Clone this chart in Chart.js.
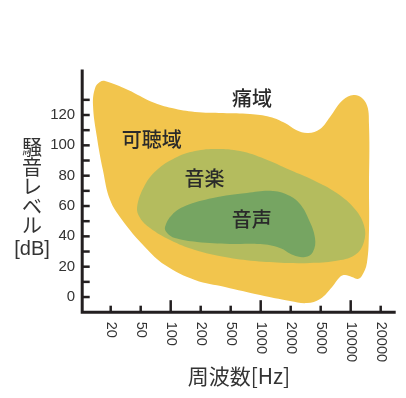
<!DOCTYPE html>
<html>
<head>
<meta charset="utf-8">
<script src="https://cdn.jsdelivr.net/npm/chart.js@4"></script>
<style>
  html, body { margin: 0; padding: 0; background: #fff; }
</style>
</head>
<body>
<canvas id="grafico" width="406" height="398"></canvas>
<script>
"use strict";

// frequency axis: position 0 = 20 Hz, 1 = 50 Hz ... 9 = 20000 Hz
const freqLabels = ["20", "50", "100", "200", "500", "1000", "2000", "5000", "10000", "20000"];
const freqMajor = ["100", "1000", "10000"];
const dbTicks = [0, 20, 40, 60, 80, 100, 120];
const dbMarks = [0, 10, 20, 30, 40, 50, 60, 70, 80, 90, 100, 110, 120, 130];

// audible range (outline, position on freq axis / dB)
const audibleX = [8.61, 8.61, 8.54, 8.37, 8.24, 8.04, 7.81, 7.64, 7.38, 6.98, 6.54, 5.98, 4.98, 3.81, 2.81, 1.81, 1.14, 0.38, -0.02, -0.26, -0.46, -0.59, -0.52, -0.36, -0.19, 0.58, 1.38, 2.04, 2.81, 3.74, 4.64, 5.31, 5.81, 6.18, 6.58, 6.98, 7.31, 7.74, 8.14, 8.51, 8.61];
const audibleY = [70.5, 44.2, 22.4, 13.8, 11.9, 13.2, 14.5, 13.2, 6.6, -1.3, -4.0, -2.6, 1.3, 6.6, 11.2, 21.1, 33.0, 50.8, 63.9, 83.7, 105.5, 126.6, 137.8, 141.7, 142.4, 136.5, 128.6, 124.6, 122.0, 121.3, 120.6, 118.7, 114.7, 110.1, 108.1, 110.8, 118.7, 129.9, 133.2, 127.9, 113.4];

// music
const musicX = [5.81, 4.81, 3.81, 2.81, 1.98, 1.31, 0.98, 0.88, 1.14, 1.54, 2.14, 2.81, 3.54, 4.31, 5.14, 5.98, 6.81, 7.48, 8.08, 8.44, 8.44, 8.14, 7.48, 6.64];
const musicY = [22.4, 23.7, 26.4, 31.0, 37.6, 45.5, 52.1, 59.3, 73.8, 83.7, 91.6, 96.2, 97.6, 96.2, 91.0, 83.7, 76.5, 69.2, 59.3, 47.5, 36.3, 27.7, 23.7, 22.4];

// speech
const speechX = [3.98, 2.88, 2.14, 1.88, 1.81, 2.04, 2.48, 3.41, 4.54, 5.41, 5.98, 6.31, 6.58, 6.81, 6.74, 6.48, 6.08, 5.64, 4.98];
const speechY = [34.9, 36.3, 38.9, 42.2, 46.1, 54.1, 60.0, 65.3, 68.6, 69.9, 66.6, 61.3, 52.1, 38.9, 29.7, 26.4, 27.7, 32.3, 34.9];

const areaNames = ["痛域", "可聴域", "音楽", "音声"];
const areaNameX = [4.71, 1.37, 3.13, 4.7];
const areaNameY = [131.2, 104, 78, 51.1];

const yTitleChars = ["騒", "音", "レ", "ベ", "ル"];
const yTitleUnit = "[dB]";
const xTitle = "周波数[Hz]";

const LATIN = "'Liberation Sans', Arial, sans-serif";
const CJK = "'Noto Sans CJK JP', 'Noto Sans CJK SC', sans-serif";

function chiudi(xs, ys) {
    let pts = xs.map((x, i) => ({ x: x, y: ys[i] }));
    pts.push(pts[0]);
    return pts;
}

function area(xs, ys, colore, ordine) {
    return {
        data: chiudi(xs, ys),
        fill: "shape",
        backgroundColor: colore,
        borderColor: "rgba(0,0,0,0)",
        borderWidth: 0,
        pointRadius: 0,
        tension: 0.4,
        order: ordine
    };
}

// axes, tick marks and texts drawn over the filled areas
const assiPlugin = {
    id: "assi",
    afterDatasetsDraw(chart) {
        const ctx = chart.ctx;
        const sx = chart.scales.x;
        const sy = chart.scales.y;
        const a = chart.chartArea;
        ctx.save();

        // area names
        ctx.fillStyle = "#2a2a2a";
        ctx.font = "500 20px " + CJK;
        ctx.textAlign = "center";
        ctx.textBaseline = "middle";
        areaNames.forEach((t, i) => {
            ctx.fillText(t, sx.getPixelForValue(areaNameX[i]), sy.getPixelForValue(areaNameY[i]));
        });

        ctx.strokeStyle = "#231f20";
        ctx.lineWidth = 3;
        ctx.beginPath();
        ctx.moveTo(a.left, a.top);
        ctx.lineTo(a.left, a.bottom);
        ctx.lineTo(a.right, a.bottom);
        ctx.stroke();

        ctx.lineWidth = 2.5;
        for (const v of dbMarks) {
            const y = sy.getPixelForValue(v);
            ctx.beginPath();
            ctx.moveTo(a.left, y);
            ctx.lineTo(a.left + 7.5, y);
            ctx.stroke();
        }
        freqLabels.forEach((lab, i) => {
            const x = sx.getPixelForValue(i);
            const len = freqMajor.includes(lab) ? 12 : 6.5;
            ctx.beginPath();
            ctx.moveTo(x, a.bottom);
            ctx.lineTo(x, a.bottom - len);
            ctx.stroke();
        });

        // frequency labels, rotated clockwise
        ctx.fillStyle = "#333";
        ctx.font = "14.5px " + LATIN;
        ctx.textAlign = "left";
        ctx.textBaseline = "middle";
        freqLabels.forEach((lab, i) => {
            ctx.save();
            ctx.translate(sx.getPixelForValue(i), a.bottom + 9.5);
            ctx.rotate(Math.PI / 2);
            ctx.fillText(lab, 0, 0);
            ctx.restore();
        });

        // axis titles
        ctx.textAlign = "center";
        ctx.font = "21px " + CJK;
        ctx.fillText(xTitle, (a.left + a.right) / 2, 376);
        ctx.font = "20px " + CJK;
        yTitleChars.forEach((c, i) => {
            ctx.fillText(c, 32, 147.5 + i * 19.6);
        });
        ctx.font = "20px " + LATIN;
        ctx.fillText(yTitleUnit, 32, 249);

        ctx.restore();
    }
};

window.onload = function() {
    const canvas = document.getElementById("grafico");
    new Chart(canvas, {
        type: "line",
        data: {
            datasets: [
                area(speechX, speechY, "#76a562", 1),
                area(musicX, musicY, "#b4bc5e", 2),
                area(audibleX, audibleY, "#f2c54d", 3)
            ]
        },
        options: {
            responsive: false,
            animation: false,
            layout: { padding: { top: 69.5, right: 10.3, left: 0, bottom: 0 } },
            plugins: { legend: { display: false }, tooltip: { enabled: false } },
            scales: {
                x: {
                    type: "linear",
                    min: -0.95,
                    max: 9.5,
                    grid: { display: false, drawTicks: false },
                    border: { display: false },
                    ticks: { display: false },
                    afterFit: s => { s.height = 398 - 312.2; }
                },
                y: {
                    type: "linear",
                    min: -10,
                    max: 150,
                    grid: { display: false, drawTicks: false },
                    border: { display: false },
                    afterBuildTicks: s => { s.ticks = dbTicks.map(v => ({ value: v })); },
                    ticks: {
                        padding: 7,
                        color: "#333",
                        font: { family: LATIN, size: 15 }
                    },
                    afterFit: s => { s.width = 82.2; }
                }
            }
        },
        plugins: [assiPlugin]
    });
};
</script>
</body>
</html>
